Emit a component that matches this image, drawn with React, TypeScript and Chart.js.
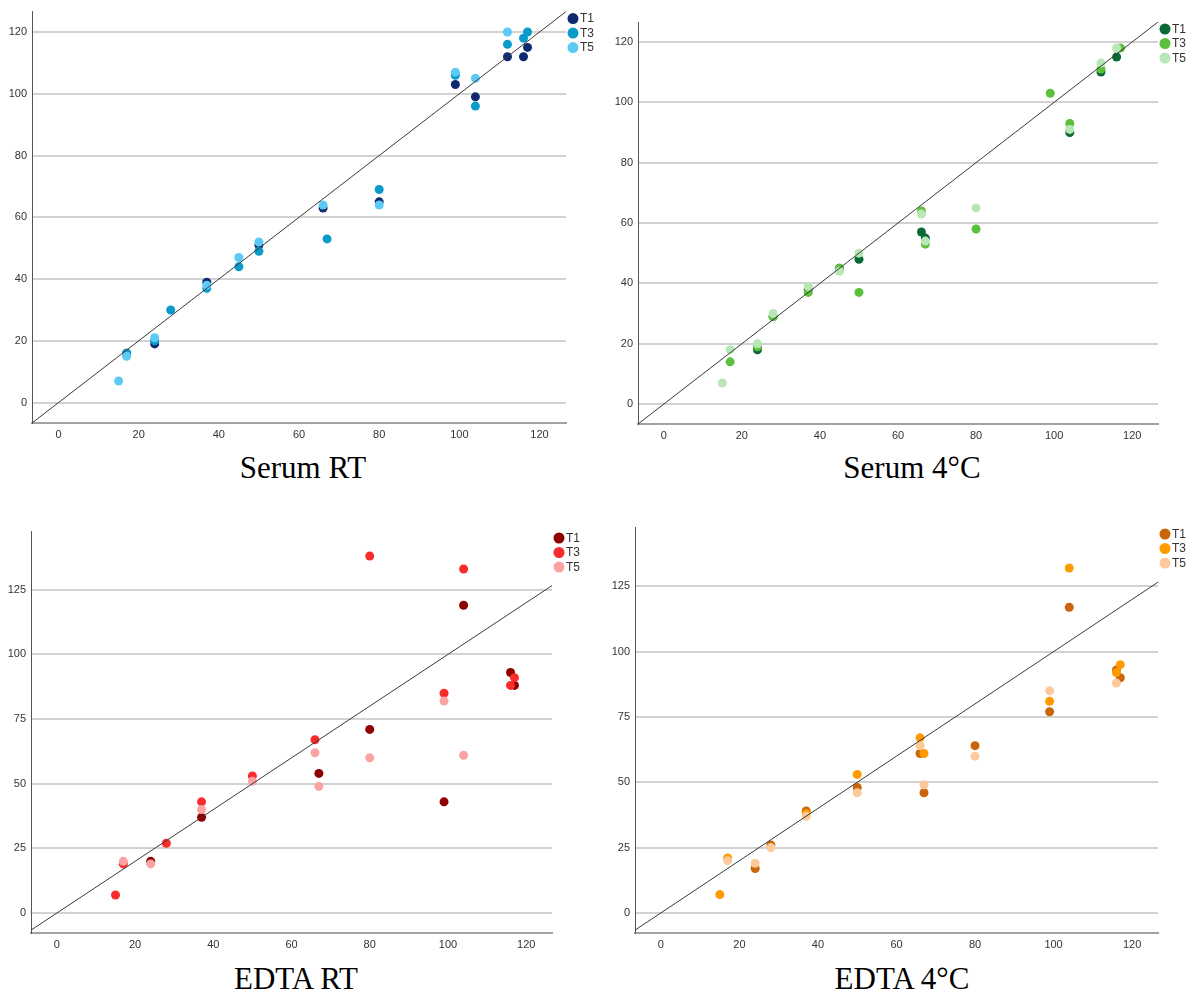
import React, { useEffect, useRef } from "react";
import { Chart, registerables } from "chart.js";

Chart.register(...registerables);

// Reference values (x axis), shared by all panels
const sampleX = [15, 17, 24, 28, 37, 45, 50, 66, 67, 80, 99, 104, 112, 116, 117];
const seriesNames = ["T1", "T3", "T5"];

// Serum RT
const serumRtT1 = [null, 16, 19, null, 39, null, 51, 63, null, 65, 103, 99, 112, 112, 115];
const serumRtT3 = [null, 16, 20, 30, 37, 44, 49, null, 53, 69, 106, 96, 116, 118, 120];
const serumRtT5 = [7, 15, 21, null, 38, 47, 52, 64, null, 64, 107, 105, 120, null, null];

// Serum 4°C
const serum4T1 = [null, null, 18, 29, 38, 45, 48, 57, 55, null, null, 90, 110, 115, null];
const serum4T3 = [null, 14, 19, 29, 37, 45, 37, 64, 53, 58, 103, 93, 111, null, 118];
const serum4T5 = [7, 18, 20, 30, 39, 44, 50, 63, 54, 65, null, 91, 113, 118, null];

// EDTA RT
const edtaRtT1 = [null, null, 20, null, 37, null, null, null, 54, 71, 43, 119, null, 93, 88];
const edtaRtT3 = [7, 19, null, 27, 43, null, 53, 67, null, 138, 85, 133, null, 88, 91];
const edtaRtT5 = [null, 20, 19, null, 40, null, 51, 62, 49, 60, 82, 61, null, null, null];

// EDTA 4°C
const edta4T1 = [null, null, 17, 26, 39, null, 48, 61, 46, 64, 77, 117, null, 93, 90];
const edta4T3 = [7, 21, null, null, 38, null, 53, 67, 61, null, 81, 132, null, 92, 95];
const edta4T5 = [null, 20, 19, 25, 37, null, 46, 64, 49, 60, 85, null, null, 88, null];

// Tick labels and axis ranges
const xTicks = [0, 20, 40, 60, 80, 100, 120];
const serumYTicks = [0, 20, 40, 60, 80, 100, 120];
const edtaYTicks = [0, 25, 50, 75, 100, 125];
const xRange = [-6.6, 126.6];
const serumYRange = [-6.6, 126.6];
const edtaYRange = [-7.7, 147.7];

const serumRtColors = ["#0f2a6e", "#0a9bcb", "#5dcaf6"];
const serum4Colors = ["#0b6936", "#5cc03c", "#b7e7b5"];
const edtaRtColors = ["#8e0000", "#f72c2c", "#f9a3a3"];
const edta4Colors = ["#c9650b", "#ff9a00", "#fcc99b"];

type Box = { left: number; top: number; w: number; h: number };
type Area = { left: number; top: number; right: number; bottom: number };
type PanelDef = {
  title: string;
  colors: string[];
  series: (number | null)[][];
  yTicks: number[];
  yRange: number[];
  canvas: Box;
  area: Area;
  titleX: number;
  titleTop: number;
};

const panels: PanelDef[] = [
  {
    title: "Serum RT",
    colors: serumRtColors,
    series: [serumRtT1, serumRtT3, serumRtT5],
    yTicks: serumYTicks,
    yRange: serumYRange,
    canvas: { left: 0, top: 0, w: 600, h: 440 },
    area: { left: 32, top: 10, right: 566, bottom: 423 },
    titleX: 303,
    titleTop: 452,
  },
  {
    title: "Serum 4°C",
    colors: serum4Colors,
    series: [serum4T1, serum4T3, serum4T5],
    yTicks: serumYTicks,
    yRange: serumYRange,
    canvas: { left: 600, top: 0, w: 592, h: 440 },
    area: { left: 638, top: 22, right: 1158, bottom: 424 },
    titleX: 912,
    titleTop: 452,
  },
  {
    title: "EDTA RT",
    colors: edtaRtColors,
    series: [edtaRtT1, edtaRtT3, edtaRtT5],
    yTicks: edtaYTicks,
    yRange: edtaYRange,
    canvas: { left: 0, top: 500, w: 600, h: 450 },
    area: { left: 31, top: 531, right: 552, bottom: 933 },
    titleX: 296,
    titleTop: 963,
  },
  {
    title: "EDTA 4°C",
    colors: edta4Colors,
    series: [edta4T1, edta4T3, edta4T5],
    yTicks: edtaYTicks,
    yRange: edtaYRange,
    canvas: { left: 600, top: 500, w: 592, h: 450 },
    area: { left: 635, top: 527, right: 1158, bottom: 933 },
    titleX: 902,
    titleTop: 963,
  },
];

const sansFont = '"Liberation Sans", Arial, sans-serif';

const sideLegend = {
  id: "sideLegend",
  afterDraw(chart: any) {
    const { ctx, chartArea } = chart;
    const items = chart.data.datasets.filter((d: any) => d.isSeries);
    ctx.save();
    items.forEach((ds: any, i: number) => {
      const cx = chartArea.right + 7;
      const cy = chartArea.top + 7 + i * 14.5;
      ctx.beginPath();
      ctx.arc(cx, cy, 5.5, 0, Math.PI * 2);
      ctx.fillStyle = ds.backgroundColor;
      ctx.fill();
      ctx.fillStyle = "#333333";
      ctx.font = "12px " + sansFont;
      ctx.textBaseline = "middle";
      ctx.textAlign = "left";
      ctx.fillText(ds.label, cx + 7, cy + 0.5);
    });
    ctx.restore();
  },
};

function Panel({ def }: { def: PanelDef }) {
  const ref = useRef<HTMLCanvasElement | null>(null);
  useEffect(() => {
    if (!ref.current) return;
    const { canvas, area } = def;
    const yAxisWidth = area.left - canvas.left;
    const xAxisHeight = canvas.top + canvas.h - area.bottom;
    const padTop = area.top - canvas.top;
    const padRight = canvas.left + canvas.w - area.right;

    const seriesSets = def.series.map((ys, si) => ({
      type: "scatter" as const,
      label: seriesNames[si],
      isSeries: true,
      data: sampleX
        .map((x, i) => ({ x, y: ys[i] }))
        .filter((p) => p.y !== null),
      backgroundColor: def.colors[si],
      borderWidth: 0,
      pointRadius: 4.5,
      pointHoverRadius: 4.5,
      order: 3 - si,
    }));

    const diagonal = {
      type: "line" as const,
      label: "",
      isSeries: false,
      data: [
        { x: xRange[0], y: xRange[0] },
        { x: xRange[1], y: xRange[1] },
      ],
      borderColor: "#3a3a3a",
      borderWidth: 1,
      pointRadius: 0,
      fill: false,
      order: 0,
    };

    const chart = new Chart(ref.current, {
      type: "scatter",
      data: { datasets: [diagonal, ...seriesSets] as any },
      options: {
        animation: false,
        responsive: false,
        layout: { padding: { top: padTop, right: padRight, left: 0, bottom: 0 } },
        plugins: { legend: { display: false }, tooltip: { enabled: false } },
        scales: {
          x: {
            type: "linear",
            min: xRange[0],
            max: xRange[1],
            afterBuildTicks: (s: any) => {
              s.ticks = xTicks.map((v) => ({ value: v }));
            },
            afterFit: (s: any) => {
              s.height = xAxisHeight;
            },
            grid: { display: false, drawTicks: false },
            border: { display: true, color: "#a3a3a3", width: 2 },
            ticks: {
              padding: 5,
              color: "#333333",
              font: { family: sansFont, size: 11 },
              maxRotation: 0,
            },
          },
          y: {
            type: "linear",
            min: def.yRange[0],
            max: def.yRange[1],
            afterBuildTicks: (s: any) => {
              s.ticks = def.yTicks.map((v) => ({ value: v }));
            },
            afterFit: (s: any) => {
              s.width = yAxisWidth;
            },
            grid: { display: true, drawTicks: false, color: "#d2d2d2", lineWidth: 2 },
            border: { display: true, color: "#555555", width: 1 },
            ticks: {
              padding: 5,
              color: "#333333",
              font: { family: sansFont, size: 11 },
            },
          },
        },
      },
      plugins: [sideLegend],
    } as any);
    return () => chart.destroy();
  }, [def]);

  const c = def.canvas;
  return (
    <>
      <canvas
        ref={ref}
        width={c.w}
        height={c.h}
        style={{ position: "absolute", left: c.left, top: c.top, width: c.w, height: c.h }}
      />
      <div
        style={{
          position: "absolute",
          left: def.titleX - 150,
          top: def.titleTop,
          width: 300,
          textAlign: "center",
          fontFamily: '"Liberation Serif", "Times New Roman", serif',
          fontSize: 31,
          lineHeight: "31px",
          color: "#000",
          whiteSpace: "nowrap",
        }}
      >
        {def.title}
      </div>
    </>
  );
}

export default function App() {
  return (
    <div
      style={{
        position: "absolute",
        left: 0,
        top: 0,
        width: 1192,
        height: 996,
        background: "#fff",
        overflow: "hidden",
      }}
    >
      {panels.map((p) => (
        <Panel key={p.title} def={p} />
      ))}
    </div>
  );
}
